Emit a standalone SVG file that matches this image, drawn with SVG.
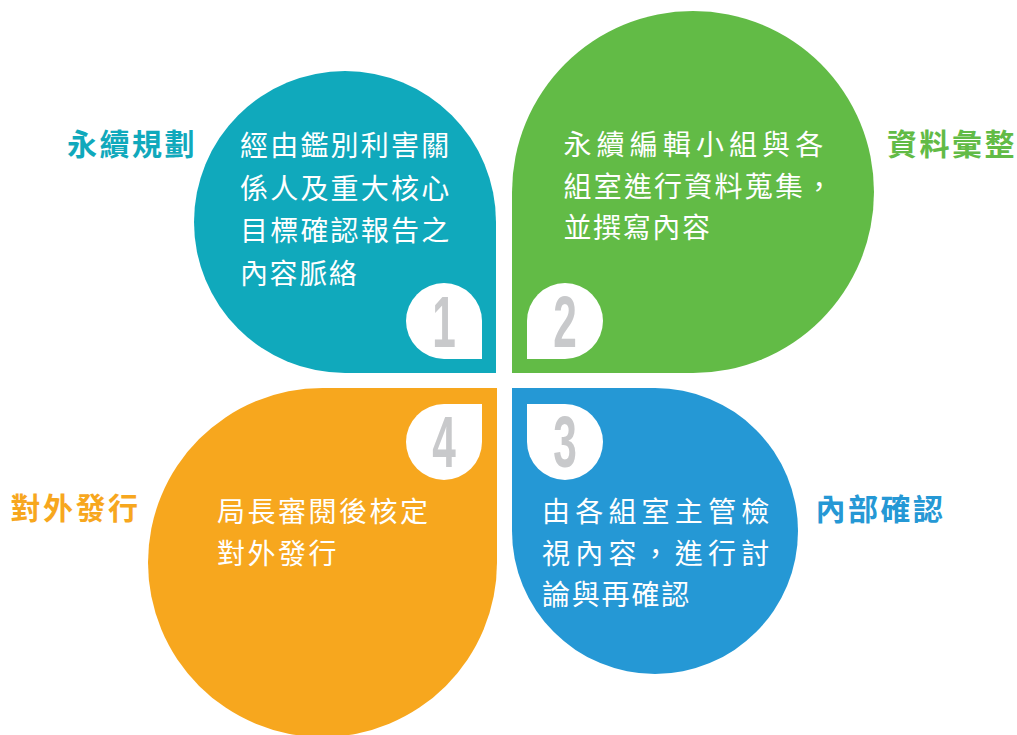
<svg xmlns="http://www.w3.org/2000/svg" width="1017" height="735" viewBox="0 0 1017 735">
<style>
.body{font-family:"Noto Sans CJK TC","Noto Sans CJK SC",sans-serif;font-size:28px;fill:#ffffff;}
.lab{font-family:"Noto Sans CJK TC","Noto Sans CJK SC",sans-serif;font-size:30px;font-weight:bold;letter-spacing:2.5px;}
.badge{fill:#ffffff;}
.num{font-family:"Liberation Sans",Arial,sans-serif;font-size:73px;font-weight:bold;fill:#c8c9cb;text-anchor:middle;}
</style>
<rect width="1017" height="735" fill="#ffffff"/>
<g id="connectors"></g>
<g id="node1">
<path d="M496,373 L345,373 A151,151 0 1 1 496,222 Z" fill="#10a9bc"/>
<path class="badge" d="M482,359 L444,359 A38,38 0 1 1 482,321 Z"/>
<text class="num" transform="translate(444,347) scale(0.58,1)">1</text>
<text class="body" x="240" y="156" letter-spacing="2.2">經由鑑別利害關</text>
<text class="body" x="240" y="198.5" letter-spacing="2.2">係人及重大核心</text>
<text class="body" x="240" y="241" letter-spacing="2.2">目標確認報告之</text>
<text class="body" x="240" y="283.5" letter-spacing="1.6">內容脈絡</text>
<text class="lab" x="67" y="155" fill="#10a9bc">永續規劃</text>
</g>
<g id="node2">
<path d="M512,373 L512,192 A181,181 0 1 1 693,373 Z" fill="#62bb46"/>
<path class="badge" d="M527,359 L527,321 A38,38 0 1 1 565,359 Z"/>
<text class="num" transform="translate(565,347) scale(0.58,1)">2</text>
<text class="body" x="563.5" y="155" letter-spacing="5.1">永續編輯小組與各</text>
<text class="body" x="563.5" y="196.5" letter-spacing="2.2">組室進行資料蒐集，</text>
<text class="body" x="563.5" y="238" letter-spacing="1.6">並撰寫內容</text>
<text class="lab" x="887" y="155" fill="#62bb46">資料彙整</text>
</g>
<g id="node3">
<path d="M512,388 L655,388 A143,143 0 1 1 512,531 Z" fill="#2598d5"/>
<path class="badge" d="M527,404 L565,404 A38,38 0 1 1 527,442 Z"/>
<text class="num" transform="translate(565,467) scale(0.58,1)">3</text>
<text class="body" x="542" y="522" letter-spacing="5.2">由各組室主管檢</text>
<text class="body" x="542" y="563.5" letter-spacing="5.2">視內容，進行討</text>
<text class="body" x="542" y="605" letter-spacing="1.8">論與再確認</text>
<text class="lab" x="815.5" y="520" fill="#2598d5">內部確認</text>
</g>
<g id="node4">
<path d="M497,388 L497,562.5 A174.5,174.5 0 1 1 322.5,388 Z" fill="#f7a71e"/>
<path class="badge" d="M482,404 L482,442 A38,38 0 1 1 444,404 Z"/>
<text class="num" transform="translate(444,467) scale(0.58,1)">4</text>
<text class="body" x="217" y="522" letter-spacing="2.5">局長審閱後核定</text>
<text class="body" x="217" y="563.5" letter-spacing="2.5">對外發行</text>
<text class="lab" x="10.5" y="518.5" fill="#f7a71e">對外發行</text>
</g>
</svg>
